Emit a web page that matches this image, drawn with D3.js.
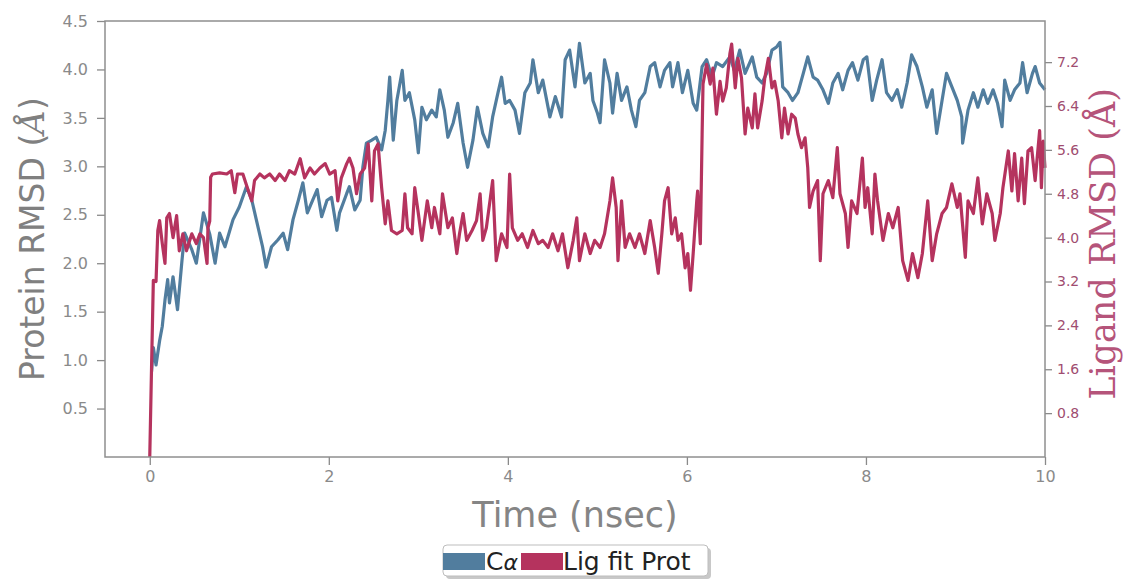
<!DOCTYPE html>
<html>
<head>
	<meta charset="utf-8">
	<title>Protein / Ligand RMSD</title>
	<script src="https://cdn.jsdelivr.net/npm/d3@7/dist/d3.min.js"></script>
	<style>
		body { margin: 0; background: #fff; }
		.tick text { font-family: "DejaVu Sans", sans-serif; }
	</style>
</head>
<body>
	<svg id="chart" width="1124" height="581"></svg>
	<script>
		// time (nsec) and C-alpha RMSD (left axis, Å)
		var caTime = [0.02,0.04,0.07,0.11,0.14,0.17,0.2,0.22,0.26,0.31,0.36,0.39,0.47,0.52,0.6,0.67,0.73,0.78,0.84,0.93,1.0,1.08,1.14,1.19,1.26,1.3,1.36,1.43,1.49,1.54,1.6,1.66,1.71,1.76,1.82,1.87,1.92,1.98,2.03,2.09,2.12,2.2,2.23,2.29,2.35,2.38,2.42,2.48,2.53,2.59,2.63,2.66,2.68,2.72,2.76,2.82,2.85,2.9,2.96,3.0,3.04,3.09,3.15,3.2,3.24,3.29,3.33,3.39,3.44,3.5,3.55,3.61,3.66,3.72,3.78,3.83,3.89,3.93,3.97,4.02,4.08,4.13,4.19,4.25,4.28,4.34,4.39,4.47,4.53,4.6,4.64,4.69,4.75,4.8,4.86,4.92,4.95,5.0,5.03,5.08,5.14,5.17,5.22,5.27,5.33,5.38,5.43,5.47,5.53,5.59,5.64,5.7,5.75,5.81,5.84,5.9,5.95,6.01,6.07,6.11,6.17,6.22,6.28,6.33,6.4,6.48,6.53,6.59,6.65,6.73,6.78,6.84,6.89,6.95,7.0,7.04,7.07,7.13,7.18,7.24,7.3,7.35,7.41,7.46,7.52,7.58,7.63,7.69,7.74,7.8,7.85,7.91,7.97,8.01,8.07,8.12,8.18,8.23,8.29,8.35,8.4,8.46,8.51,8.57,8.63,8.68,8.74,8.79,8.85,8.9,8.96,9.02,9.07,9.08,9.14,9.2,9.25,9.31,9.36,9.42,9.47,9.52,9.55,9.61,9.66,9.72,9.75,9.8,9.86,9.89,9.94,10.0];
		var caRmsd = [0.88,1.13,0.95,1.2,1.35,1.62,1.83,1.59,1.86,1.52,2.03,2.31,2.14,2.0,2.52,2.3,2.0,2.31,2.17,2.45,2.58,2.79,2.65,2.45,2.17,1.96,2.17,2.24,2.31,2.14,2.45,2.65,2.83,2.52,2.65,2.76,2.48,2.65,2.68,2.34,2.52,2.72,2.79,2.55,2.65,2.99,3.24,3.27,3.3,3.17,3.37,3.68,3.92,3.27,3.68,3.99,3.68,3.76,3.48,3.14,3.61,3.48,3.58,3.51,3.79,3.58,3.3,3.45,3.65,3.24,2.99,3.27,3.61,3.34,3.2,3.51,3.76,3.92,3.65,3.68,3.58,3.34,3.76,3.86,4.1,3.76,3.89,3.51,3.72,3.51,4.1,4.2,3.82,4.27,3.86,3.96,3.68,3.55,3.45,4.1,3.86,3.55,3.96,3.68,3.82,3.58,3.41,3.68,3.76,4.03,4.07,3.82,3.99,4.07,3.82,4.07,3.76,3.99,3.65,3.58,4.03,4.1,3.92,4.07,4.03,4.13,3.99,4.2,3.96,4.13,3.92,3.86,3.96,4.2,4.23,4.28,3.82,3.76,3.68,3.76,3.96,4.13,3.92,3.89,3.79,3.65,3.86,3.96,3.79,3.99,4.07,3.89,4.1,4.13,3.68,3.89,4.1,3.76,3.68,3.79,3.61,3.86,4.15,4.03,3.82,3.61,3.79,3.34,3.68,3.96,3.82,3.68,3.51,3.24,3.58,3.76,3.61,3.79,3.65,3.79,3.65,3.41,3.89,3.68,3.79,3.86,4.07,3.76,3.96,4.03,3.86,3.79];

		// time (nsec) and ligand RMSD, fit on protein (right axis, Å)
		var ligTime = [0,0.02,0.04,0.07,0.09,0.11,0.14,0.17,0.19,0.22,0.26,0.3,0.33,0.37,0.41,0.47,0.52,0.56,0.6,0.64,0.65,0.67,0.68,0.7,0.78,0.86,0.91,0.95,0.98,1.04,1.09,1.14,1.17,1.23,1.28,1.34,1.4,1.45,1.51,1.56,1.62,1.68,1.73,1.79,1.84,1.9,1.96,2.01,2.07,2.1,2.14,2.2,2.23,2.27,2.31,2.35,2.4,2.44,2.48,2.51,2.55,2.59,2.63,2.66,2.7,2.76,2.82,2.85,2.88,2.93,2.96,3.0,3.04,3.1,3.15,3.18,3.24,3.27,3.33,3.38,3.43,3.46,3.5,3.54,3.6,3.65,3.69,3.72,3.76,3.8,3.83,3.87,3.93,3.99,4.02,4.05,4.11,4.16,4.22,4.28,4.34,4.39,4.45,4.5,4.56,4.61,4.67,4.73,4.77,4.8,4.86,4.92,4.97,5.03,5.08,5.14,5.17,5.21,5.23,5.27,5.31,5.36,5.42,5.47,5.53,5.59,5.64,5.68,5.72,5.75,5.79,5.83,5.87,5.9,5.94,5.98,6.01,6.04,6.07,6.11,6.12,6.15,6.17,6.18,6.22,6.26,6.29,6.33,6.37,6.4,6.44,6.48,6.5,6.54,6.57,6.61,6.65,6.68,6.73,6.76,6.79,6.84,6.87,6.91,6.95,6.98,7.02,7.06,7.09,7.13,7.17,7.21,7.24,7.28,7.32,7.35,7.37,7.41,7.46,7.49,7.52,7.58,7.63,7.68,7.71,7.77,7.8,7.84,7.9,7.96,7.99,8.02,8.07,8.1,8.13,8.19,8.25,8.3,8.36,8.41,8.47,8.52,8.58,8.63,8.69,8.74,8.79,8.85,8.9,8.96,9.02,9.05,9.11,9.14,9.2,9.25,9.3,9.35,9.41,9.44,9.5,9.53,9.59,9.63,9.66,9.7,9.74,9.77,9.81,9.85,9.89,9.94,9.96,9.98,10.0];
		var ligRmsd = [0,1.64,3.22,3.2,4.13,4.31,3.89,3.53,4.36,4.44,4.0,4.4,3.76,4.07,3.76,4.07,3.89,4.07,4.0,3.53,4.18,4.3,5.1,5.16,5.18,5.16,5.22,4.82,5.16,5.16,4.91,4.67,5.04,5.16,5.09,5.16,5.04,5.16,5.04,5.22,5.16,5.44,5.09,5.27,5.16,5.27,5.35,5.16,5.22,4.67,5.09,5.35,5.45,5.27,4.8,5.16,5.27,5.71,4.67,5.58,5.71,4.91,4.25,4.67,4.13,4.07,4.13,4.8,4.18,4.07,4.91,4.44,3.95,4.67,4.18,4.55,4.07,4.8,4.18,4.36,3.71,4.07,4.44,3.95,4.13,4.31,4.8,3.95,4.18,4.67,5.04,3.58,4.07,3.82,5.16,4.18,3.95,4.07,3.82,4.13,3.89,3.95,3.82,4.07,3.76,4.07,3.45,3.95,4.36,3.58,4.07,3.71,3.95,3.82,4.07,4.67,5.09,4.55,3.58,4.67,3.82,4.07,3.82,4.07,3.71,4.31,3.82,3.35,4.07,4.67,4.91,4.07,4.36,3.95,4.07,3.45,3.71,3.04,3.71,4.67,4.85,3.89,5.89,6.8,7.16,6.8,7.09,6.25,6.85,6.49,6.73,7.35,7.53,6.73,7.27,6.91,5.89,6.36,6.0,6.62,6.0,6.49,6.91,7.27,6.73,6.85,6.49,5.82,6.36,5.89,6.25,6.18,5.89,5.64,5.82,5.27,4.55,4.85,5.04,3.58,4.8,5.04,4.73,5.64,4.8,4.44,3.82,4.67,4.44,5.45,4.55,4.91,4.07,5.16,4.67,3.95,4.44,4.18,4.55,3.58,3.22,3.71,3.27,3.71,4.67,3.58,4.07,4.44,4.55,4.98,4.55,4.8,3.64,4.67,4.44,5.09,4.25,4.8,4.44,3.95,4.44,4.91,5.58,4.85,5.53,4.67,5.45,4.62,5.58,5.64,5.04,5.95,4.91,5.76,5.27];

		var xTicks = [0, 2, 4, 6, 8, 10];
		var leftTicks = [0.5, 1.0, 1.5, 2.0, 2.5, 3.0, 3.5, 4.0, 4.5];
		var rightTicks = [0.8, 1.6, 2.4, 3.2, 4.0, 4.8, 5.6, 6.4, 7.2];

		var blue = '#517d9e',
			pink = '#b5335e';

		var svg = d3.select('#chart'),
			plotL = 105, plotR = 1045, plotT = 21, plotB = 457;

		var x = d3.scaleLinear().domain([-0.5, 10]).range([plotL, plotR]);
		var yL = d3.scaleLinear().domain([0, 4.5]).range([plotB, plotT]);
		var yR = d3.scaleLinear().domain([0, 7.95]).range([plotB, plotT]);

		// axes
		var gx = svg.append('g')
			.attr('transform', 'translate(0,' + plotB + ')')
			.call(d3.axisBottom(x).tickValues(xTicks).tickSize(8).tickPadding(6).tickFormat(d3.format('d')));
		gx.selectAll('text').attr('font-size', 16).attr('fill', '#8a8a8a');

		var gl = svg.append('g')
			.attr('transform', 'translate(' + plotL + ',0)')
			.call(d3.axisLeft(yL).tickValues(leftTicks).tickSize(8).tickPadding(9).tickFormat(d3.format('.1f')));
		gl.selectAll('text').attr('font-size', 16).attr('fill', '#8a8a8a');

		var gr = svg.append('g')
			.attr('transform', 'translate(' + plotR + ',0)')
			.call(d3.axisRight(yR).tickValues(rightTicks).tickSize(7).tickPadding(5).tickFormat(d3.format('.1f')));
		gr.selectAll('text')
			.attr('font-size', 14)
			.attr('font-family', '"DejaVu Serif", serif')
			.attr('fill', '#a04d70');

		svg.selectAll('.domain').remove();
		svg.selectAll('.tick line').attr('stroke', '#8a8a8a').attr('stroke-width', 1.3);

		// lines
		var caLine = d3.line()
			.x(function (d, i) { return x(caTime[i]); })
			.y(function (d) { return yL(d); });
		var ligLine = d3.line()
			.x(function (d, i) { return x(ligTime[i]); })
			.y(function (d) { return yR(d); });

		svg.append('path')
			.datum(caRmsd)
			.attr('fill', 'none')
			.attr('stroke', blue)
			.attr('stroke-width', 3.2)
			.attr('stroke-linejoin', 'round')
			.attr('d', caLine);

		svg.append('path')
			.datum(ligRmsd)
			.attr('fill', 'none')
			.attr('stroke', pink)
			.attr('stroke-width', 3.2)
			.attr('stroke-linejoin', 'round')
			.attr('d', ligLine);

		// frame
		svg.append('rect')
			.attr('x', plotL).attr('y', plotT)
			.attr('width', plotR - plotL).attr('height', plotB - plotT)
			.attr('fill', 'none')
			.attr('stroke', '#8f8f8f')
			.attr('stroke-width', 1.5);

		// axis titles
		var ylab = svg.append('text')
			.attr('transform', 'translate(44,' + ((plotT + plotB) / 2) + ') rotate(-90)')
			.attr('text-anchor', 'middle')
			.attr('font-family', '"DejaVu Sans", sans-serif')
			.attr('font-size', 33)
			.attr('fill', '#808080');
		ylab.append('tspan').text('Protein RMSD (');
		ylab.append('tspan').attr('font-style', 'italic').attr('font-family', '"DejaVu Serif", serif').text('Å');
		ylab.append('tspan').text(')');

		svg.append('text')
			.attr('transform', 'translate(1115,' + ((plotT + plotB) / 2 + 5) + ') rotate(-90)')
			.attr('text-anchor', 'middle')
			.attr('font-family', '"DejaVu Serif", serif')
			.attr('font-size', 35)
			.attr('fill', '#b5547a')
			.text('Ligand RMSD (Å)');

		svg.append('text')
			.attr('x', 575)
			.attr('y', 527)
			.attr('text-anchor', 'middle')
			.attr('font-family', '"DejaVu Sans", sans-serif')
			.attr('font-size', 35)
			.attr('fill', '#858585')
			.text('Time (nsec)');

		// legend
		var lg = svg.append('g');
		lg.append('rect')
			.attr('x', 446).attr('y', 548).attr('width', 265).attr('height', 31).attr('rx', 4)
			.attr('fill', '#c8c8c8');
		lg.append('rect')
			.attr('x', 443).attr('y', 545).attr('width', 265).attr('height', 31).attr('rx', 4)
			.attr('fill', '#fff').attr('stroke', '#bdbdbd');
		lg.append('rect').attr('x', 443).attr('y', 553).attr('width', 42).attr('height', 17).attr('fill', blue);
		lg.append('rect').attr('x', 521).attr('y', 553).attr('width', 42).attr('height', 17).attr('fill', pink);
		var t1 = lg.append('text')
			.attr('x', 486).attr('y', 570)
			.attr('font-family', '"DejaVu Sans", sans-serif')
			.attr('font-size', 25)
			.attr('fill', '#222');
		t1.append('tspan').text('C');
		t1.append('tspan').attr('font-style', 'italic').attr('font-size', 22).text('α');
		lg.append('text')
			.attr('x', 563).attr('y', 570)
			.attr('font-family', '"DejaVu Sans", sans-serif')
			.attr('font-size', 25)
			.attr('fill', '#222')
			.text('Lig fit Prot');
	</script>
</body>
</html>
